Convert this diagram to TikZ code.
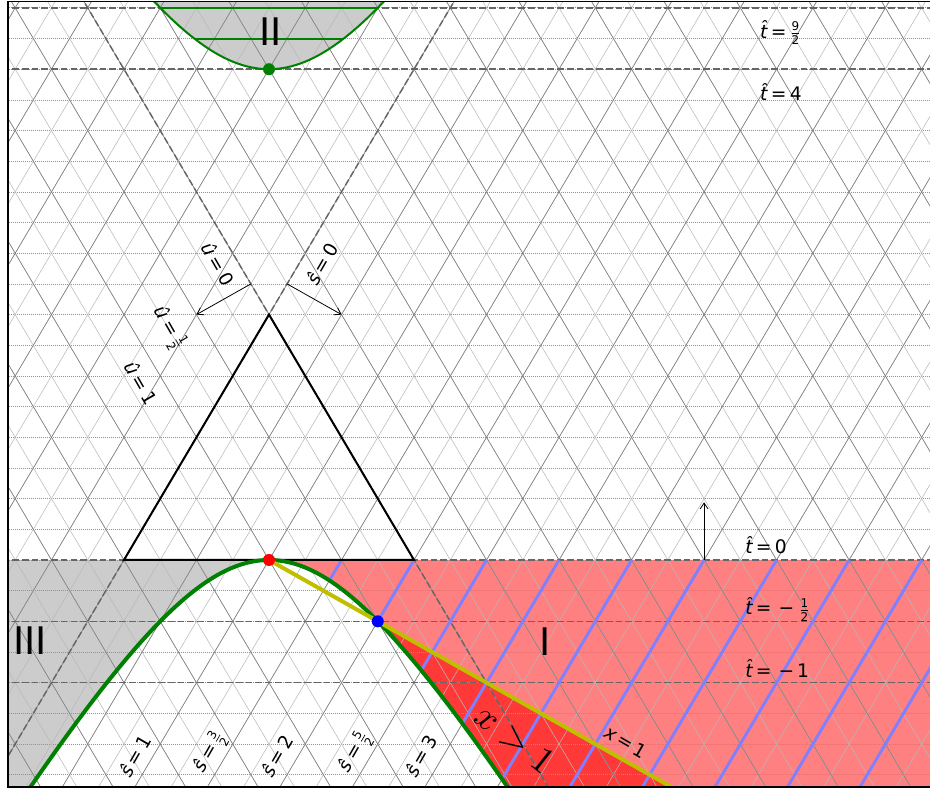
\documentclass[tikz,border=0pt]{standalone}
\usepackage{amsmath}
\usepackage[no-math]{fontspec}
\setmainfont{DejaVu Sans}
\usetikzlibrary{arrows.meta}
\definecolor{salmon}{RGB}{255,128,128}
\definecolor{mydarkred}{RGB}{255,56,56}
\definecolor{regiongray}{RGB}{204,204,204}
\definecolor{mgreen}{RGB}{0,128,0}
\definecolor{myellow}{RGB}{191,191,0}
\definecolor{mblue}{RGB}{128,128,255}
\newcommand\that{\textit{t^^^^0302}}
\newcommand\eq{\kern0.18em=\kern0.18em}
\newcommand\hfr[2]{$\genfrac{}{}{0.5pt}{}{\hbox{\fontsize{9}{9}\selectfont #1}}{\hbox{\fontsize{9}{9}\selectfont #2}}$}
\begin{document}
\begin{tikzpicture}[x=94.2pt,y=92.025pt,
  lab/.style={font=\fontsize{14}{16}\selectfont,inner sep=0pt},
  roman/.style={font=\fontsize{28.5}{30}\selectfont,inner sep=0pt},
  lightline/.style={black!28,line width=0.4pt},
  halfline/.style={black!50,line width=0.45pt},
  hdotted/.style={black!42,line width=0.5pt,dash pattern=on 0.75pt off 0.75pt},
  cone/.style={black!60,line width=1.1pt,dash pattern=on 5pt off 2.3pt},
  ptr/.style={-{Straight Barb[length=4.5pt,width=6pt]},line width=0.6pt},
  dot/.style={circle,inner sep=0pt,minimum size=9pt}]
\useasboundingbox (-2.1417,-1.8826) rectangle (5.2627,4.5639);
\coordinate (red) at (0,0);
\coordinate (blue) at ({sqrt(3)/2},-0.5);
\coordinate (top) at (0,4);
\coordinate (apex) at (0,2);
\coordinate (bl) at ({-2/sqrt(3)},0);
\coordinate (br) at ({2/sqrt(3)},0);
\coordinate (yend) at (4.5,{-4.5/sqrt(3)});
\begin{scope}
\clip (-2.078,-1.850) rectangle (5.3,4.548);
% filled regions
\fill[regiongray] plot[domain=0:-2.3,samples=60] (\x,{2-sqrt(4+3*\x*\x)}) -- (-2.3,0) -- cycle;
\fill[salmon] plot[domain=0:2.3,samples=60] (\x,{2-sqrt(4+3*\x*\x)}) -- (5.4,-2.7) -- (5.4,0) -- cycle;
\fill[mydarkred] plot[domain=0.8660254:2.3,samples=50] (\x,{2-sqrt(4+3*\x*\x)}) -- (4.7,{-4.7/sqrt(3)}) -- cycle;
\fill[regiongray] plot[domain=-0.97:0.97,samples=60] (\x,{2+sqrt(4+3*\x*\x)}) -- cycle;
% lattice
\foreach \k in {-8,...,19} \draw[hdotted] (-2.2,\k/4) -- (5.4,\k/4);
\foreach \k in {-26,...,28} {
  \draw[lightline] ({(-4+\k/2)/sqrt(3)},-2) -- ({(3+\k/2)/sqrt(3)},5);
  \draw[lightline] ({(4-\k/2)/sqrt(3)},-2) -- ({(-3-\k/2)/sqrt(3)},5);
}
\foreach \m in {-13,...,14} {
  \draw[halfline] ({(-4+\m)/sqrt(3)},-2) -- ({(3+\m)/sqrt(3)},5);
  \draw[halfline] ({(4-\m)/sqrt(3)},-2) -- ({(-3-\m)/sqrt(3)},5);
}
\foreach \hv in {0,-0.5,-1,4,4.5} \draw[cone] (-2.2,\hv) -- (5.4,\hv);
\draw[cone] ({-4/sqrt(3)},-2) -- ({3/sqrt(3)},5);
\draw[cone] ({4/sqrt(3)},-2) -- ({-3/sqrt(3)},5);
% blue lines
\foreach \c in {1.5,2,...,6} \draw[mblue,line width=2.2pt] ({(2*\c-2)/sqrt(3)},0) -- ({(\c-1/\c)/sqrt(3)},{2-\c-1/\c});
% triangle
\draw[line width=1.5pt,line join=miter] (bl) -- (apex) -- (br) -- cycle;
% hyperbola branches
\draw[mgreen,line width=3pt] plot[domain=-2.3:2.3,samples=120,smooth] (\x,{2-sqrt(4+3*\x*\x)});
\draw[mgreen,line width=1.5pt] plot[domain=-0.97:0.97,samples=60,smooth] (\x,{2+sqrt(4+3*\x*\x)});
\draw[mgreen,line width=1.5pt] ({-sqrt(0.75)},4.5) -- ({sqrt(0.75)},4.5);
\draw[mgreen,line width=1.5pt] ({-sqrt((2.25*2.25-4)/3)},4.25) -- ({sqrt((2.25*2.25-4)/3)},4.25);
% x=1 line
\draw[myellow,line width=3pt] (red) -- (yend);
\end{scope}
% frame
\draw[line width=0.8pt] (5.4,4.548) -- (-2.078,4.548) -- (-2.078,-1.850) -- (5.4,-1.850);
% dots
\node[dot,fill=red] (reddot) at (red) {};
\node[dot,fill=blue] (bluedot) at (blue) {};
\node[dot,fill=mgreen] (greendot) at (top) {};
% arrows
\coordinate (a1s) at ({-0.25/sqrt(3)},2.25);
\coordinate (a1e) at ({-1/sqrt(3)},2);
\coordinate (a2s) at ({0.25/sqrt(3)},2.25);
\coordinate (a2e) at ({1/sqrt(3)},2);
\coordinate (a3s) at ({2*sqrt(3)},0);
\coordinate (a3e) at ({2*sqrt(3)},0.47);
\draw[ptr] (a1s) -- (a1e);
\draw[ptr] (a2s) -- (a2e);
\draw[ptr] (a3s) -- (a3e);
% labels
\node[lab,rotate=-60] (u0) at (-0.406,2.412) {\textit{û}\eq0};
\node[lab,rotate=60] (s0) at (0.422,2.412) {\textit{ŝ}\eq0};
\node[lab,rotate=-60] (uhalf) at (-0.796,1.891) {\textit{û}\eq\hfr{1}{2}};
\node[lab,rotate=-60] (u1) at (-1.019,1.443) {\textit{û}\eq1};
\node[lab,rotate=60] (s1) at (-1.067,-1.597) {\textit{ŝ}\eq1};
\node[lab,rotate=60] (s32) at (-0.470,-1.565) {\textit{ŝ}\eq\hfr{3}{2}};
\node[lab,rotate=60] (s2) at (0.064,-1.597) {\textit{ŝ}\eq2};
\node[lab,rotate=60] (s52) at (0.685,-1.565) {\textit{ŝ}\eq\hfr{5}{2}};
\node[lab,rotate=60] (s3) at (1.210,-1.597) {\textit{ŝ}\eq3};
\node[lab,rotate=-30] (x1) at (2.842,-1.483) {\textit{x}\eq1};
\node[inner sep=0pt,rotate=-38,scale=2.8] (xgt) at (1.959,-1.459) {$x>1$};
\node[lab,anchor=base west] (t92) at (3.909,4.254) {\that\eq\hfr{9}{2}};
\node[lab,anchor=base west] (t4) at (3.909,3.741) {\that\eq4};
\node[lab,anchor=base west] (t0) at (3.790,0.049) {\that\eq0};
\node[lab,anchor=base west] (tm12) at (3.790,-0.448) {\that\eq\kern0.2em−\kern0.25em\hfr{1}{2}};
\node[lab,anchor=base west] (tm1) at (3.790,-0.954) {\that\eq\kern0.2em−\kern0.15em1};
\node[roman] (rII) at (0.012,4.307) {II};
\node[roman] (rIII) at (-1.903,-0.660) {III};
\node[roman] (rI) at (2.197,-0.668) {I};
\end{tikzpicture}
\end{document}
